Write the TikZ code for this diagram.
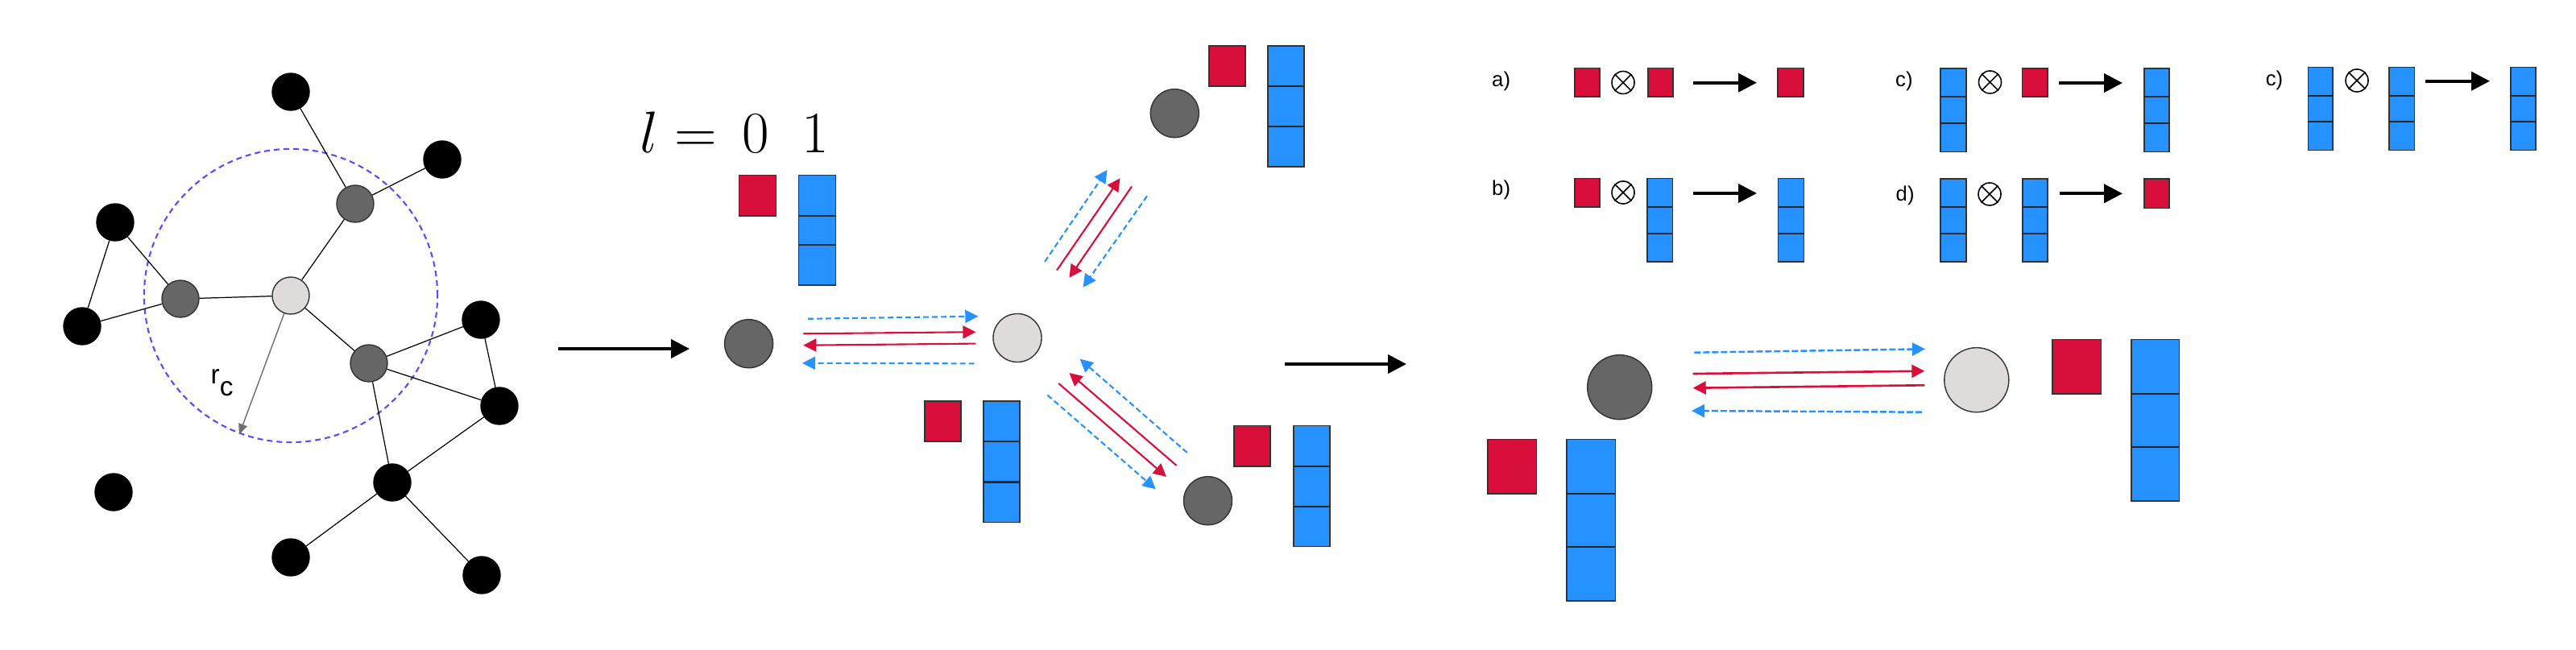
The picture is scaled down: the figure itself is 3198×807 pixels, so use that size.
\documentclass[tikz,border=0pt]{standalone}
\usepackage[no-math]{fontspec}
\newfontfamily\labfont{Liberation Sans}
\usetikzlibrary{arrows.meta}
\definecolor{cred}{HTML}{D70F3A}
\definecolor{cblue}{HTML}{2592FF}
\definecolor{cgray}{HTML}{666666}
\definecolor{clight}{HTML}{E0DBDB}
\definecolor{cviolet}{HTML}{6048FF}
\definecolor{cedge}{HTML}{333333}
\definecolor{crc}{HTML}{6E6E6E}
\newcommand{\myredbox}[4]{\draw[redbox] (#1,#2) rectangle (#3,#4);}
\newcommand{\mybluecol}[6]{\draw[bluebox] (#1,#3) rectangle (#2,#6); \draw[divline] (#1,#4) -- (#2,#4) (#1,#5) -- (#2,#5);}
\newcommand{\myotimes}[3]{\node[otimesnode] (#1) at (#2,#3) {}; \draw[line width=0.45pt] (#1.45) -- (#1.225) (#1.135) -- (#1.-45);}
\begin{document}
\begin{tikzpicture}[x=0.01cm,y=-0.01cm,
  blk/.style={circle,draw=black,fill=black,minimum size=0.46cm,inner sep=0pt},
  gnode/.style={circle,draw=cedge,fill=cgray,line width=0.4pt,inner sep=0pt},
  lnode/.style={circle,draw=cedge,fill=clight,line width=0.4pt,inner sep=0pt},
  gedge/.style={line width=0.35pt,black},
  bigarrow/.style={line width=1.1pt,-{Triangle[length=0.23cm,width=0.23cm]}},
  redarr/.style={cred,line width=0.6pt,-{Triangle[length=0.16cm,width=0.16cm]}},
  bluearr/.style={cblue,line width=0.6pt,dash pattern=on 0.07cm off 0.04cm,-{Triangle[length=0.16cm,width=0.16cm]}},
  redbox/.style={fill=cred,draw=cedge,line width=0.45pt},
  bluebox/.style={fill=cblue,draw=cedge,line width=0.45pt},
  divline/.style={draw=black!85,line width=0.6pt},
  otimesnode/.style={circle,draw=black,line width=0.45pt,minimum size=0.28cm,inner sep=0pt},
  lab/.style={font=\labfont\fontsize{7.3}{8}\selectfont,inner sep=0pt,anchor=base west}
]
\useasboundingbox (0,0) rectangle (3198,807);

% ---------------- left graph ----------------
\draw[cviolet,line width=0.6pt,dash pattern=on 0.07cm off 0.05cm] (361,367) circle[radius=1.82cm];
\node[blk] (n1) at (361,114) {};
\node[blk] (n2) at (549,198) {};
\node[gnode,minimum size=0.46cm] (g1) at (441,253) {};
\node[blk] (n3) at (143,276) {};
\node[blk] (n4) at (102,405) {};
\node[gnode,minimum size=0.46cm] (g2) at (224,371) {};
\node[lnode,minimum size=0.46cm] (c) at (361,367) {};
\node[gnode,minimum size=0.46cm] (g3) at (458,451) {};
\node[blk] (n5) at (597,397) {};
\node[blk] (n6) at (620,504) {};
\node[blk] (n7) at (487,599) {};
\node[blk] (n8) at (141,611) {};
\node[blk] (n9) at (361,692) {};
\node[blk] (n10) at (598,714) {};
\draw[gedge] (n1) -- (g1) (n2) -- (g1) (g1) -- (c)
  (n3) -- (g2) (n3) -- (n4) (n4) -- (g2) (g2) -- (c)
  (c) -- (g3) (g3) -- (n5) (g3) -- (n6) (n5) -- (n6)
  (g3) -- (n7) (n6) -- (n7) (n7) -- (n9) (n7) -- (n10);
\coordinate (rcend) at (297,539.4);
\draw[crc,line width=0.4pt,-{Triangle[length=0.13cm,width=0.11cm]}] (c) -- (rcend);
\node[font=\labfont\fontsize{9.5}{10}\selectfont,inner sep=0pt,anchor=base west] (rc) at (261,476.7) {r\raisebox{-4.3pt}{c}};

% arrow 1
\coordinate (a1s) at (693,433);
\coordinate (a1e) at (856,433);
\draw[bigarrow] (a1s) -- (a1e);

% ---------------- middle section ----------------
\node[inner sep=0pt,anchor=base east,font=\fontsize{20.8}{24}\selectfont] (leq) at (891,190) {$l =$};
\node[inner sep=0pt,anchor=base,font=\fontsize{20.8}{24}\selectfont] (l0) at (938.3,190) {$0$};
\node[inner sep=0pt,anchor=base,font=\fontsize{20.8}{24}\selectfont] (l1) at (1012.5,190) {$1$};

\myredbox{917.5}{217.7}{963.4}{268}
\mybluecol{991.6}{1037.5}{217.7}{268}{304}{354}
\myredbox{1147.7}{498}{1193}{548}
\mybluecol{1221}{1266}{498}{548}{598.5}{648.5}
\myredbox{1501}{57}{1546}{107}
\mybluecol{1573.7}{1619}{57}{107}{156.7}{207}
\myredbox{1532}{528.7}{1577}{579}
\mybluecol{1605.7}{1651}{528.7}{579}{628.7}{678.7}

\node[gnode,minimum size=0.6cm] (m0) at (929.6,426.7) {};
\node[lnode,minimum size=0.6cm] (mc) at (1263,419.5) {};
\node[gnode,minimum size=0.6cm] (mu) at (1458.3,140.7) {};
\node[gnode,minimum size=0.6cm] (md) at (1499.5,621.7) {};

% horizontal
\draw[bluearr] (1003,395.8) -- (1214.3,392.7);
\draw[redarr] (997.3,414.3) -- (1211.4,412.2);
\draw[redarr] (1211.4,426.6) -- (997.3,428.7);
\draw[bluearr] (1209.7,451.4) -- (996,450.8);
% upper diagonal
\draw[bluearr] (1297,325) -- (1374.5,211);
\draw[redarr] (1312,335.6) -- (1390.5,221.3);
\draw[redarr] (1405,231.6) -- (1327.4,344.8);
\draw[bluearr] (1424,243.4) -- (1344.6,356.7);
% lower diagonal
\draw[bluearr] (1473.8,562) -- (1340.6,445.7);
\draw[redarr] (1460.6,578) -- (1327.4,463);
\draw[redarr] (1314.2,476) -- (1448,591.9);
\draw[bluearr] (1300.4,490.5) -- (1434.7,607.3);

% arrow 2
\coordinate (a2s) at (1594.5,452);
\coordinate (a2e) at (1746,452);
\draw[bigarrow] (a2s) -- (a2e);

% ---------------- top right operations ----------------
\node[lab] (la) at (1851.5,107.3) {a)};
\myredbox{1955}{84.5}{1986}{120}
\myotimes{o1}{2015}{102.5}
\myredbox{2046}{84.5}{2077}{120}
\draw[bigarrow] (2102,102.7) -- (2181,102.7);
\myredbox{2207}{84.5}{2239}{120}

\node[lab] (lc1) at (2352.5,108) {c)};
\mybluecol{2409}{2441}{85}{120}{153}{188.3}
\myotimes{o2}{2470.5}{102}
\myredbox{2510.6}{85}{2541.8}{120}
\draw[bigarrow] (2556,103) -- (2635,103);
\mybluecol{2662}{2693}{85}{120}{153}{188.3}

\node[lab] (lc2) at (2812,107) {c)};
\mybluecol{2865.4}{2895.8}{83.7}{118.7}{151}{186.3}
\myotimes{o3}{2926}{100}
\mybluecol{2966}{2997.4}{83.7}{118.7}{151}{186.3}
\draw[bigarrow] (3010.8,100.7) -- (3091,100.7);
\mybluecol{3117}{3148}{83.7}{118.7}{151}{186.3}

\node[lab] (lb) at (1851.5,243) {b)};
\myredbox{1955}{221.7}{1986}{257}
\myotimes{o4}{2015}{239}
\mybluecol{2045}{2076.4}{221.7}{257}{290}{325}
\draw[bigarrow] (2102,240) -- (2181,240);
\mybluecol{2207.5}{2239.5}{221.7}{257}{290}{325}

\node[lab] (ld) at (2353,249.7) {d)};
\mybluecol{2408.7}{2441}{222}{257}{290}{325}
\myotimes{o5}{2470}{241}
\mybluecol{2510.7}{2542}{222}{257}{290}{325}
\draw[bigarrow] (2556.7,240.3) -- (2635,240.3);
\myredbox{2661.7}{222}{2693}{258.3}

% ---------------- bottom right ----------------
\myredbox{2548}{421.3}{2608.4}{489}
\mybluecol{2646}{2705.6}{421.3}{488.7}{554.7}{622}
\myredbox{1847}{545.7}{1907.4}{613}
\mybluecol{1945}{2005.4}{545.7}{613}{679}{746}
\node[gnode,minimum size=0.8cm] (r0) at (2010.7,480.7) {};
\node[lnode,minimum size=0.8cm] (rc1) at (2453.8,471.7) {};
\draw[bluearr,line width=0.7pt,dash pattern=on 0.08cm off 0.03cm] (2103.3,437.7) -- (2390,433.3);
\draw[redarr,line width=0.75pt] (2101.7,464) -- (2389.3,460.7);
\draw[redarr,line width=0.75pt] (2389.3,478.3) -- (2101.7,481.7);
\draw[bluearr,line width=0.7pt,dash pattern=on 0.08cm off 0.03cm] (2386,511.7) -- (2100,510);
\end{tikzpicture}
\end{document}
